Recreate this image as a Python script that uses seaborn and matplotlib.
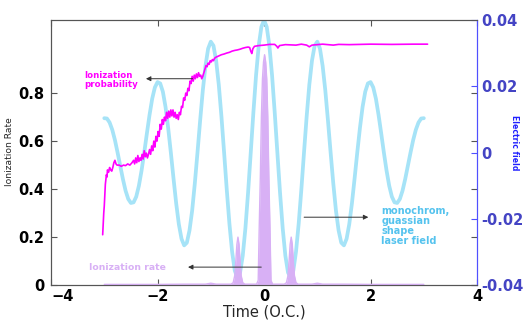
import numpy as np
import matplotlib
matplotlib.use("Agg")
import matplotlib.pyplot as plt
import seaborn as sns

# laser electric field, read every 0.05 O.C. between -3 and 3
field_time = np.linspace(-3, 3, 121)
field = [
    0.0104, 0.0103, 0.0091, 0.0069, 0.0038, 0.0, -0.0040, -0.0080, -0.0115, -0.0140,
    -0.0152, -0.0150, -0.0133, -0.0100, -0.0054, 0.0, 0.0058, 0.0114, 0.0163, 0.0197,
    0.0213, 0.0209, 0.0184, 0.0138, 0.0074, 0.0, -0.0078, -0.0153, -0.0216, -0.0260,
    -0.0280, -0.0272, -0.0235, -0.0175, -0.0093, 0.0, 0.0097, 0.0188, 0.0262, 0.0314,
    0.0335, 0.0323, 0.0278, 0.0205, 0.0109, 0.0, -0.0112, -0.0215, -0.0299, -0.0356,
    -0.0378, -0.0362, -0.0311, -0.0228, -0.0121, 0.0, 0.0122, 0.0234, 0.0323, 0.0380,
    0.0400,
    0.0380, 0.0323, 0.0234, 0.0122, 0.0, -0.0121, -0.0228, -0.0311, -0.0362, -0.0378,
    -0.0356, -0.0299, -0.0215, -0.0112, 0.0, 0.0109, 0.0205, 0.0278, 0.0323, 0.0335,
    0.0314, 0.0262, 0.0188, 0.0097, 0.0, -0.0093, -0.0175, -0.0235, -0.0272, -0.0280,
    -0.0260, -0.0216, -0.0153, -0.0078, 0.0, 0.0074, 0.0138, 0.0184, 0.0209, 0.0213,
    0.0197, 0.0163, 0.0114, 0.0058, 0.0, -0.0054, -0.0100, -0.0133, -0.0150, -0.0152,
    -0.0140, -0.0115, -0.0080, -0.0040, 0.0, 0.0038, 0.0069, 0.0091, 0.0103, 0.0104,
]

# ionization probability (noisy rise, then flat near 1)
prob_time = [
    -3.03, -3.02, -3.01, -3.00, -2.99, -2.98, -2.96, -2.95, -2.94, -2.92, -2.90,
    -2.88, -2.86, -2.84, -2.82, -2.80, -2.78, -2.76, -2.72, -2.68, -2.64, -2.60,
    -2.56, -2.52, -2.48, -2.45, -2.43, -2.41, -2.39, -2.37, -2.35, -2.33, -2.31,
    -2.29, -2.27, -2.25, -2.23, -2.21, -2.19, -2.17, -2.15, -2.13, -2.11, -2.09,
    -2.07, -2.05, -2.03, -2.01, -1.99, -1.97, -1.95, -1.93, -1.91, -1.89, -1.87,
    -1.85, -1.83, -1.81, -1.79, -1.77, -1.75, -1.73, -1.71, -1.69, -1.67, -1.65,
    -1.63, -1.61, -1.59, -1.57, -1.55, -1.53, -1.51, -1.49, -1.47, -1.45, -1.43,
    -1.41, -1.39, -1.37, -1.35, -1.33, -1.31, -1.29, -1.27, -1.25, -1.23, -1.21,
    -1.19, -1.17, -1.15, -1.13, -1.11, -1.09, -1.07, -1.05, -1.03, -1.01, -0.99,
    -0.97, -0.95, -0.93, -0.90, -0.85, -0.80, -0.75, -0.70, -0.65, -0.60, -0.55,
    -0.50, -0.45, -0.40, -0.35, -0.30, -0.27, -0.25, -0.23, -0.21, -0.18, -0.10,
    0.00, 0.10, 0.20, 0.24, 0.26, 0.29, 0.40, 0.60, 0.70, 0.80, 0.85, 0.90, 1.10,
    1.30, 1.40, 1.60, 2.00, 2.40, 2.80, 3.07,
]
prob = [
    0.21, 0.26, 0.30, 0.33, 0.38, 0.42, 0.46, 0.45, 0.48, 0.47, 0.49,
    0.48, 0.475, 0.49, 0.51, 0.52, 0.505, 0.50, 0.50, 0.495, 0.50, 0.498,
    0.505, 0.50, 0.51, 0.52, 0.505, 0.53, 0.51, 0.54, 0.515, 0.53, 0.52,
    0.545, 0.525, 0.56, 0.535, 0.55, 0.53, 0.545, 0.565, 0.545, 0.58, 0.56,
    0.60, 0.575, 0.62, 0.60, 0.64, 0.62, 0.67, 0.65, 0.69, 0.67, 0.70,
    0.685, 0.72, 0.695, 0.725, 0.70, 0.73, 0.705, 0.73, 0.70, 0.72, 0.695,
    0.71, 0.69, 0.72, 0.71, 0.745, 0.74, 0.78, 0.77, 0.80, 0.79, 0.82,
    0.81, 0.85, 0.84, 0.87, 0.85, 0.875, 0.86, 0.88, 0.865, 0.885, 0.87,
    0.875, 0.86, 0.87, 0.885, 0.90, 0.915, 0.91, 0.925, 0.92, 0.935, 0.93,
    0.94, 0.935, 0.945, 0.95, 0.955, 0.96, 0.963, 0.967, 0.97, 0.975, 0.978,
    0.98, 0.983, 0.987, 0.99, 0.992, 0.99, 0.975, 0.965, 0.985, 0.995, 0.998,
    1.0, 1.003, 1.003, 0.995, 0.988, 0.998, 1.002, 1.0, 1.004, 1.0, 0.993, 1.0, 1.004,
    1.0, 1.003, 1.002, 1.004, 1.003, 1.004, 1.004,
]

# ionization rate (spikes at the field extrema)
rate_time = [
    -3.0, -2.0, -1.5, -1.1, -1.0, -0.9, -0.62, -0.58, -0.55, -0.53, -0.51, -0.49,
    -0.47, -0.45, -0.43, -0.40, -0.36, -0.14, -0.11, -0.09, -0.07, -0.05, -0.03,
    -0.01, 0.01, 0.03, 0.05, 0.07, 0.09, 0.11, 0.13, 0.16, 0.38, 0.42, 0.45, 0.47,
    0.49, 0.51, 0.53, 0.55, 0.57, 0.60, 0.64, 0.9, 1.0, 1.1, 1.5, 2.0, 3.0,
]
rate = [
    0.003, 0.003, 0.004, 0.004, 0.008, 0.004, 0.004, 0.01, 0.04, 0.10, 0.17, 0.20,
    0.17, 0.10, 0.04, 0.01, 0.004, 0.004, 0.02, 0.25, 0.45, 0.70, 0.86,
    0.93, 0.96, 0.93, 0.86, 0.70, 0.45, 0.25, 0.02, 0.004, 0.004, 0.01, 0.04, 0.10,
    0.17, 0.20, 0.17, 0.10, 0.04, 0.01, 0.004, 0.004, 0.008, 0.004, 0.004, 0.003, 0.003,
]

magenta = "#ff00ff"
cyan = "#a6e3f7"
purple = "#d8b0f5"
gray = "#555555"
blue = "#5050ff"

sns.set_theme(style="ticks")
plt.rcParams["font.family"] = ["DejaVu Sans"]

fig = plt.figure(figsize=(5.26, 3.2), dpi=100)
axf = fig.add_axes([0.097, 0.109, 0.81, 0.828])
ax = axf.twinx()

# field on the right scale, drawn underneath
sns.lineplot(x=field_time, y=field, ax=axf, color=cyan, lw=2.7, estimator=None, sort=False)

# rate + probability on the left scale
ax.fill_between(rate_time, rate, color=purple, lw=0)
sns.lineplot(x=rate_time, y=rate, ax=ax, color=purple, lw=1, estimator=None, sort=False)
sns.lineplot(x=prob_time, y=prob, ax=ax, color=magenta, lw=1.2, estimator=None, sort=False)

axf.set_xlim(-4, 4)
axf.set_ylim(-0.04, 0.04)
ax.set_ylim(0, 1.104)

ax.yaxis.tick_left()
ax.yaxis.set_label_position("left")
axf.yaxis.tick_right()

axf.set_xticks([-4, -2, 0, 2, 4])
axf.set_xticklabels(["\u22124", "\u22122", "0", "2", "4"], fontweight="bold")
axf.get_xticklabels()[0].set_horizontalalignment("left")
ax.set_yticks([0, 0.2, 0.4, 0.6, 0.8])
ax.set_yticklabels(["0", "0.2", "0.4", "0.6", "0.8"], fontweight="bold")
axf.set_yticks([-0.04, -0.02, 0, 0.02, 0.04])
axf.set_yticklabels(["-0.04", "-0.02", "0", "0.02", "0.04"], fontweight="bold")

axf.tick_params(axis="x", direction="in", top=True, length=4, width=0.8,
                color=gray, labelsize=10.5, pad=3, labelcolor="black")
axf.tick_params(axis="y", direction="in", length=4, width=0.8, color=blue,
                labelsize=10.5, labelcolor="#4444c4", pad=3)
ax.tick_params(axis="y", direction="in", left=True, right=True, labelleft=True,
               labelright=False, length=4, width=0.8, color=gray,
               labelsize=10.5, pad=5, labelcolor="black")

for a in (ax, axf):
    for side in ("left", "top", "bottom"):
        a.spines[side].set_color(gray)
        a.spines[side].set_linewidth(0.8)
    a.spines["right"].set_color(blue)
    a.spines["right"].set_linewidth(0.8)
    a.set_ylabel("")

axf.set_xlabel("Time (O.C.)", fontsize=10.5, labelpad=0)
fig.text(0.019, 0.525, "Ionization Rate", rotation=90, fontsize=6.6,
         ha="center", va="center")
fig.text(0.978, 0.553, "Electric field", rotation=270, fontsize=5.6,
         fontweight="bold", color="#2020ff", ha="center", va="center")

# annotations
ax.text(-3.37, 0.855, "Ionization\nprobability", color=magenta, fontsize=6.2,
        fontweight="bold", ha="left", va="center", linespacing=1.1)
ax.annotate("", xy=(-2.27, 0.86), xytext=(-1.29, 0.86),
            arrowprops=dict(arrowstyle="-|>", color="#333333", lw=0.7, mutation_scale=7))

ax.text(-3.28, 0.075, "Ionization rate", color=purple, fontsize=6.7,
        fontweight="bold", ha="left", va="center")
ax.annotate("", xy=(-1.48, 0.075), xytext=(0.0, 0.075),
            arrowprops=dict(arrowstyle="-|>", color="#333333", lw=0.7, mutation_scale=7))

ax.text(2.2, 0.246, "monochrom,\nguassian\nshape\nlaser field", color="#55c3ee",
        fontsize=7, fontweight="bold", ha="left", va="center", linespacing=1.0)
ax.annotate("", xy=(2.01, 0.283), xytext=(0.70, 0.283),
            arrowprops=dict(arrowstyle="-|>", color="#333333", lw=0.7, mutation_scale=7))

fig.savefig("out.png", dpi=100)
